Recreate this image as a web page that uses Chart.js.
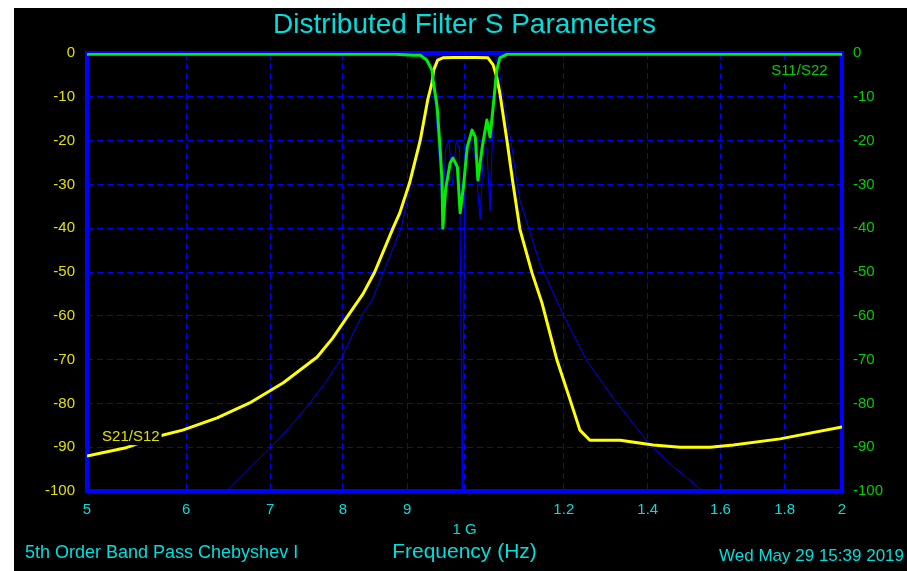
<!DOCTYPE html>
<html>
<head>
<meta charset="utf-8">
<title>Distributed Filter S Parameters</title>
<script src="https://cdn.jsdelivr.net/npm/chart.js@4.4.1/dist/chart.umd.min.js"></script>
<style>
  html, body { margin: 0; padding: 0; background: #fff; }
  #wrap { position: absolute; left: 14px; top: 8px; width: 893px; height: 563px; background: #000; }
</style>
</head>
<body>
<div id="wrap"><canvas id="chart" width="893" height="563"></canvas></div>
<script>
// frequencies in GHz, levels in dB
const S21_FREQ = [0.500, 0.536, 0.572, 0.596, 0.635, 0.674, 0.717, 0.763, 0.785, 0.810, 0.830, 0.848, 0.877, 0.888, 0.904, 0.922, 0.935, 0.942, 0.945, 0.952, 0.961, 0.980, 1.000, 1.020, 1.044, 1.054, 1.061, 1.067, 1.081, 1.093, 1.107, 1.132, 1.153, 1.185, 1.214, 1.236, 1.259, 1.331, 1.414, 1.486, 1.570, 1.638, 1.785, 2.000];
const S21_DB   = [-92.0, -90.2, -87.4, -86.1, -83.3, -79.9, -75.3, -69.4, -65.1, -59.4, -55.0, -50.0, -40.0, -36.5, -29.7, -19.9, -10.5, -6.8, -3.9, -1.6, -1.1, -1.0, -1.0, -1.0, -1.1, -2.7, -5.5, -9.1, -19.9, -29.7, -40.2, -50.2, -57.1, -70.1, -79.2, -86.1, -88.4, -88.4, -89.5, -90.0, -90.0, -89.5, -88.1, -85.4];

const S11_FREQ = [0.500, 0.880, 0.910, 0.922, 0.933, 0.942, 0.944, 0.951, 0.956, 0.9595, 0.961, 0.966, 0.974, 0.979, 0.987, 0.992, 0.998, 1.005, 1.014, 1.020, 1.025, 1.033, 1.042, 1.048, 1.054, 1.061, 1.067, 1.081, 2.000];
const S11_DB   = [-0.3, -0.3, -0.5, -0.5, -1.6, -3.9, -6.2, -12.3, -21.5, -29.0, -40.0, -31.0, -25.1, -24.0, -26.0, -36.5, -30.6, -21.5, -17.6, -19.2, -29.0, -21.5, -15.3, -19.2, -12.3, -3.9, -1.1, -0.3, -0.3];

const IDEAL_S21_FREQ = [0.646, 0.674, 0.700, 0.730, 0.753, 0.777, 0.798, 0.815, 0.830, 0.844, 0.890, 0.906, 0.924, 0.937, 0.945, 0.953, 1.000, 1.058, 1.066, 1.073, 1.089, 1.099, 1.107, 1.149, 1.198, 1.252, 1.314, 1.398, 1.459, 1.541, 1.550];
const IDEAL_S21_DB   = [-100, -94.7, -90.2, -84.5, -79.9, -74.7, -69.6, -64.0, -59.4, -56.4, -40.0, -30.0, -20.0, -10.0, -3.0, -0.3, 0, -0.5, -4.0, -10.0, -20.0, -28.0, -33.6, -48.2, -59.6, -70.3, -78.8, -88.6, -93.8, -99.5, -100];

const IDEAL_S11_FREQ = [0.500, 0.930, 0.940, 0.948, 0.955, 0.960, 0.966, 0.972, 0.978, 0.985, 0.991, 0.996, 1.001, 1.010, 1.020, 1.029, 1.036, 1.042, 1.048, 1.053, 1.058, 1.064, 1.075, 2.000];
const IDEAL_S11_DB   = [0, -0.3, -3, -12, -25, -37, -22, -20, -30, -20, -22, -100, -22, -20, -24, -38, -21, -22, -36, -18, -6, -1, 0, 0];

const X_TICKS = [0.5, 0.6, 0.7, 0.8, 0.9, 1.0, 1.2, 1.4, 1.6, 1.8, 2.0];
const X_TICK_LABELS = ['5', '6', '7', '8', '9', ['', '1 G'], '1.2', '1.4', '1.6', '1.8', '2'];
const Y_TICKS = [0, -10, -20, -30, -40, -50, -60, -70, -80, -90, -100];

const FONT = "'Liberation Sans', Arial, sans-serif";
const CYAN = '#00dede';
const GRID = '#0000ff';

const pts = (xs, ys) => xs.map((x, i) => ({ x, y: ys[i] }));

const overlay = {
  id: 'overlay',
  beforeDatasetsDraw(chart) {
    const { ctx, chartArea: a } = chart;
    ctx.save();
    ctx.setLineDash([]);
    ctx.strokeStyle = '#0000ff';
    ctx.lineWidth = 4;
    ctx.strokeRect(a.left, a.top, a.right - a.left, a.bottom - a.top);
    ctx.restore();
  },
  afterDatasetsDraw(chart) {
    const { ctx, scales } = chart;
    ctx.save();
    ctx.textBaseline = 'middle';
    ctx.textAlign = 'left';
    ctx.font = '15px ' + FONT;
    // inline trace labels
    [['S21/S12', 0.514, -87.7, '#e0e000'], ['S11/S22', 1.756, -4.1, '#00d000']].forEach(([t, f, db, c]) => {
      const x = scales.x.getPixelForValue(f), y = scales.y.getPixelForValue(db);
      const w = ctx.measureText(t).width;
      ctx.fillStyle = '#000';
      ctx.fillRect(x - 2, y - 8, w + 4, 16);
      ctx.fillStyle = c;
      ctx.fillText(t, x, y);
    });
    // footer notes
    ctx.fillStyle = CYAN;
    ctx.font = '18px ' + FONT;
    ctx.fillText('5th Order Band Pass Chebyshev I', 11, 545);
    ctx.textAlign = 'right';
    ctx.font = '17px ' + FONT;
    ctx.fillText('Wed May 29 15:39 2019', 890, 548);
    ctx.restore();
  }
};

new Chart(document.getElementById('chart'), {
  type: 'line',
  data: {
    datasets: [
      { label: 'S11/S22', data: pts(S11_FREQ, S11_DB), borderColor: '#00ee00', borderWidth: 3 },
      { label: 'S21/S12', data: pts(S21_FREQ, S21_DB), borderColor: '#ffff00', borderWidth: 3 },
      { label: 'Ideal S11', data: pts(IDEAL_S11_FREQ, IDEAL_S11_DB), borderColor: '#0000ff', borderWidth: 1 },
      { label: 'Ideal S21', data: pts(IDEAL_S21_FREQ, IDEAL_S21_DB), borderColor: '#0000ff', borderWidth: 1 },
    ],
  },
  options: {
    responsive: false,
    animation: false,
    elements: { point: { radius: 0 }, line: { tension: 0, borderJoinStyle: 'round' } },
    layout: { padding: 0 },
    plugins: {
      legend: { display: false },
      tooltip: { enabled: false },
      title: {
        display: true, fullSize: false,
        text: 'Distributed Filter S Parameters',
        color: CYAN, font: { family: FONT, size: 28, weight: 'normal', lineHeight: 1.2 },
        padding: { top: 0, bottom: 11.4 },
      },
    },
    scales: {
      x: {
        type: 'logarithmic', min: 0.5, max: 2, position: 'bottom',
        afterFit: s => { s.height = 80; },
        afterBuildTicks: s => { s.ticks = X_TICKS.map(v => ({ value: v })); },
        grid: { color: GRID, lineWidth: 1, drawTicks: false },
        border: { display: false, dash: [6, 4] },
        ticks: {
          color: CYAN, padding: 9, autoSkip: false, maxRotation: 0,
          font: { family: FONT, size: 15, lineHeight: 20 / 15 },
          callback: (v, i) => X_TICK_LABELS[i],
        },
        title: {
          display: true, text: 'Frequency (Hz)', color: CYAN,
          font: { family: FONT, size: 21, lineHeight: 1.2 },
          padding: { top: 0, bottom: 6.4 },
        },
      },
      y: {
        min: -100, max: 0, position: 'left',
        afterFit: s => { s.width = 73; },
        afterBuildTicks: s => { s.ticks = Y_TICKS.map(v => ({ value: v })); },
        grid: { color: GRID, lineWidth: 1, drawTicks: false },
        border: { display: false, dash: [6, 4] },
        ticks: { color: '#e0e000', padding: 12, font: { family: FONT, size: 15 } },
      },
      y1: {
        min: -100, max: 0, position: 'right',
        afterFit: s => { s.width = 65; },
        afterBuildTicks: s => { s.ticks = Y_TICKS.map(v => ({ value: v })); },
        grid: { display: false, drawTicks: false },
        border: { display: false },
        ticks: { color: '#00d000', padding: 11, font: { family: FONT, size: 15 } },
      },
    },
  },
  plugins: [overlay],
});
</script>
</body>
</html>
